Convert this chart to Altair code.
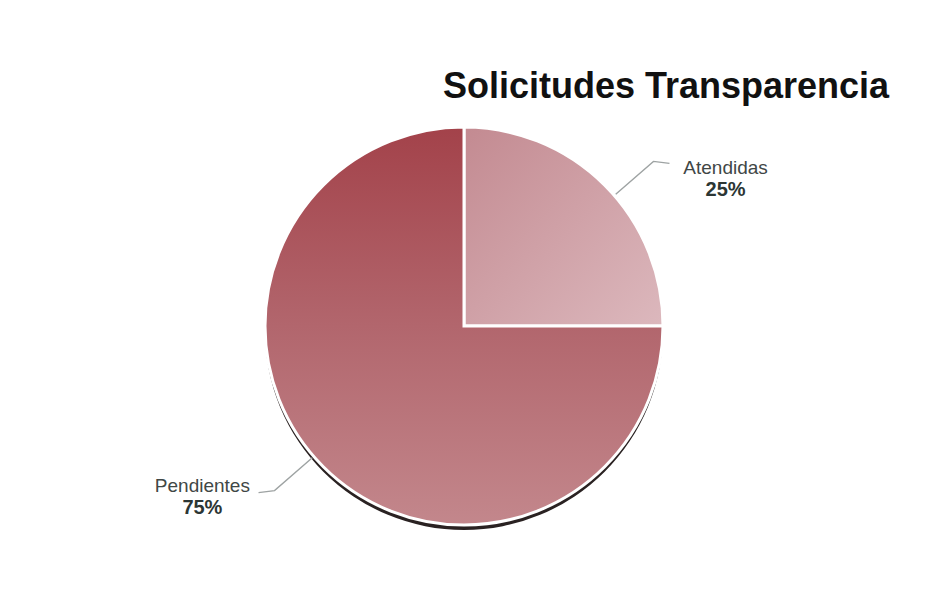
import altair as alt
import pandas as pd
import numpy as np

categories = ["Atendidas", "Pendientes"]
values = [25, 75]
pct_labels = ["25%", "75%"]
title_text = "Solicitudes  Transparencia"

W, H = 920, 576
CX, CY = 456, 318
R = 199

df = pd.DataFrame({"cat": categories, "val": values, "pct": pct_labels})

# leader lines derived from slice mid-angles
total = df["val"].sum()
start = df["val"].cumsum() - df["val"]
mid = (start + df["val"] / 2) / total * 2 * np.pi + 0.07
rows = []
for c, a in zip(df["cat"], mid):
    s = np.sign(np.sin(a))
    x1, y1 = CX + (R + 2) * np.sin(a), CY - (R + 2) * np.cos(a)
    x2, y2 = CX + (R + 52) * np.sin(a), CY - (R + 52) * np.cos(a)
    x3, y3 = x2 + s * 16, y2 + 2
    rows += [dict(cat=c, o=0, px=x1, py=y1), dict(cat=c, o=1, px=x2, py=y2), dict(cat=c, o=2, px=x3, py=y3)]
lead = pd.DataFrame(rows)

gradP = {"gradient": "linear", "x1": 0, "y1": 0, "x2": 0, "y2": 1,
         "stops": [{"offset": 0, "color": "#a3424a"}, {"offset": 0.5, "color": "#b2666d"}, {"offset": 1, "color": "#c3878c"}]}
gradA = {"gradient": "linear", "x1": 0, "y1": 0, "x2": 1, "y2": 1,
         "stops": [{"offset": 0, "color": "#c38a91"}, {"offset": 1, "color": "#dcb8bd"}]}

base = alt.Chart(df).encode(
    theta=alt.Theta("val:Q", stack=True),
    order=alt.Order("cat:N"),
)

shadow = base.mark_arc(radius=R, yOffset=5, fill="#2a2222").encode(
    x=alt.value(CX), y=alt.value(CY)
)

pie = base.mark_arc(radius=R, stroke="white", strokeWidth=3).encode(
    x=alt.value(CX), y=alt.value(CY),
    fill=alt.condition(alt.datum.cat == "Atendidas", alt.value(gradA), alt.value(gradP)),
)

names = base.mark_text(radius=306, thetaOffset=0.24, dy=1, fontSize=19,
                       font="Liberation Sans", color="#3f4746").encode(
    x=alt.value(CX), y=alt.value(CY), text="cat:N"
)
pcts = base.mark_text(radius=306, thetaOffset=0.24, dy=23, fontSize=20, fontWeight="bold",
                      font="Liberation Sans", color="#2c3634").encode(
    x=alt.value(CX), y=alt.value(CY), text="pct:N"
)

lines = alt.Chart(lead).mark_line(color="#9ea3a3", strokeWidth=1.4).encode(
    x=alt.X("px:Q", scale=None),
    y=alt.Y("py:Q", scale=None),
    detail="cat:N",
    order="o:Q",
)

title = alt.Chart(pd.DataFrame({"t": [title_text]})).mark_text(
    fontSize=36, fontWeight="bold", font="Liberation Sans", color="#111111", baseline="alphabetic"
).encode(x=alt.value(658), y=alt.value(90), text="t:N")

chart = alt.layer(shadow, pie, lines, names, pcts, title).properties(
    width=W, height=H,
    autosize=alt.AutoSizeParams(type="fit", contains="padding"),
    padding=0,
    background="white",
).configure_view(stroke=None)

chart.save("out.html", embed_options={"renderer": "svg", "actions": False})
